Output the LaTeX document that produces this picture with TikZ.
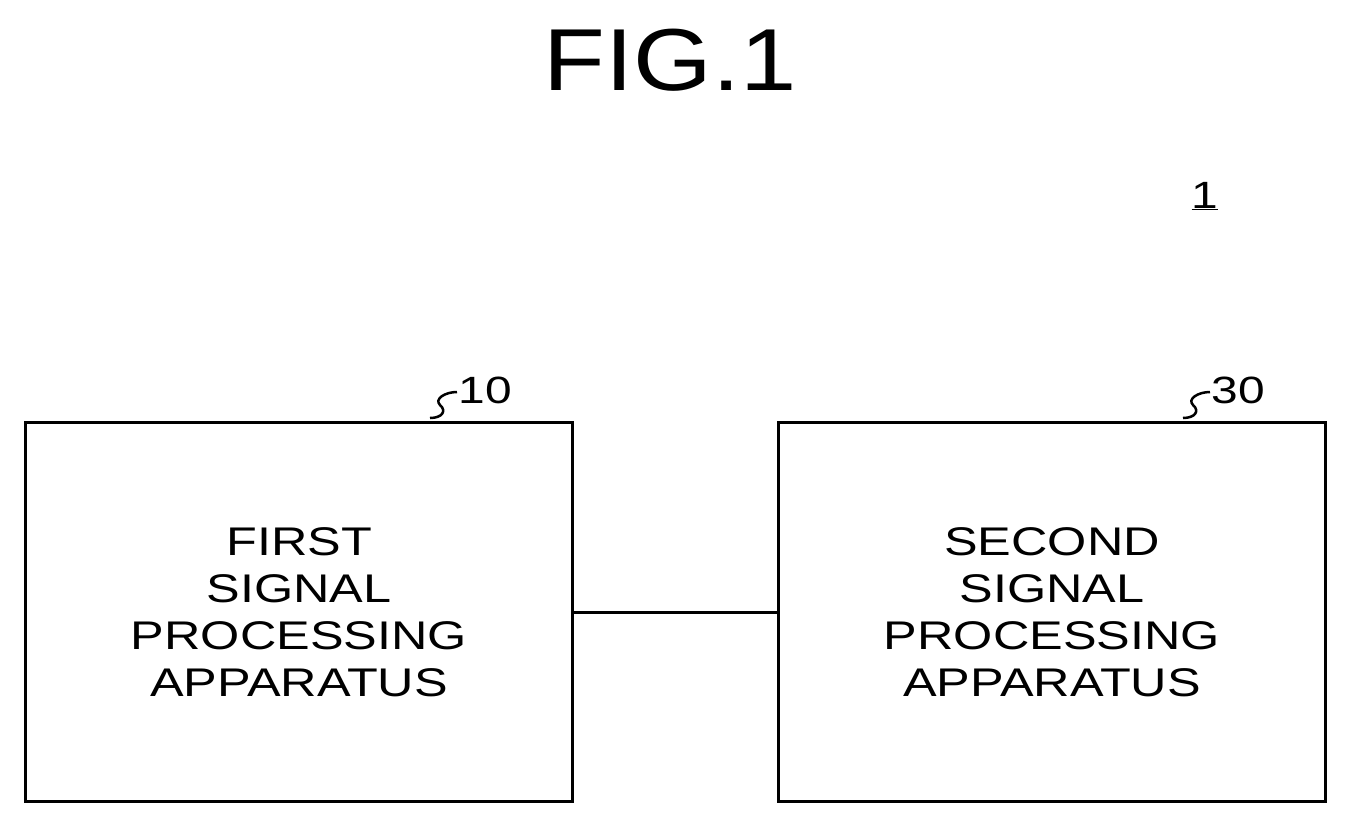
\documentclass[tikz,border=0pt]{standalone}
\usepackage{fontspec}
\setmainfont{Liberation Sans}[FakeStretch=1.26]
\newfontfamily\titlefont{Liberation Sans}[FakeStretch=1.15]
\begin{document}
\begin{tikzpicture}[x=1pt,y=-1pt,
  box/.style={draw,line width=3pt,minimum width=547pt,minimum height=379pt,anchor=north west,align=center,font=\fontsize{40}{47}\selectfont},
  lbl/.style={font=\fontsize{38}{40}\selectfont,anchor=west}]
\useasboundingbox (0,0) rectangle (1347,822);
\node[font=\titlefont\fontsize{88}{90}\selectfont] (t) at (670,60) {FIG.1};
\node[font=\fontsize{38}{40}\selectfont] (one) at (1205,196) {\underline{1}};
\node[box] (a) at (24,421) {FIRST\\SIGNAL\\PROCESSING\\APPARATUS};
\node[box] (b) at (777,421) {SECOND\\SIGNAL\\PROCESSING\\APPARATUS};
\draw[line width=3pt] (a.east) -- (b.east -| b.west);
\node[lbl] (n10) at (455,390) {10};
\node[lbl] (n30) at (1208,390) {30};
\coordinate (s1) at (430,418);
\coordinate (s2) at (1183,418);
\draw[line width=2.5pt] (s1) .. controls (442,418) and (447,411) .. (440,405) .. controls (434,399) and (445,392) .. (457,392);
\draw[line width=2.5pt] (s2) .. controls (1195,418) and (1200,411) .. (1193,405) .. controls (1187,399) and (1198,392) .. (1210,392);
\end{tikzpicture}
\end{document}
